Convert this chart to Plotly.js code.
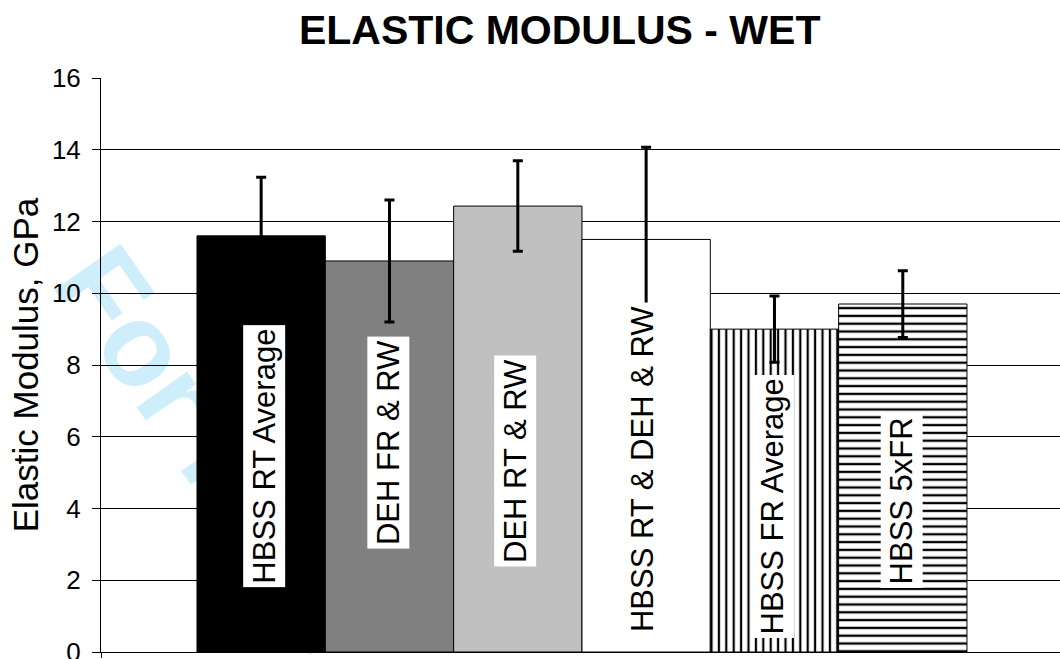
<!DOCTYPE html>
<html>
<head>
<meta charset="utf-8">
<script src="https://cdn.plot.ly/plotly-3.0.1.min.js"></script>
<style>html,body{margin:0;padding:0;background:#fff;}#chart{width:1060px;height:659px;}</style>
</head>
<body>
<div id="chart"></div>
<script>
// ---- data ----
const categories = ["HBSS RT Average", "DEH FR & RW", "DEH RT & RW", "HBSS RT & DEH & RW", "HBSS FR Average", "HBSS 5xFR"];
const modulus = [11.60, 10.90, 12.43, 11.50, 9.00, 9.70];
const stdev = [1.63, 1.70, 1.26, 2.57, 0.92, 0.93];
const yTicks = [0, 2, 4, 6, 8, 10, 12, 14, 16];

// ---- styles / positions ----
const fills = ['#000000', '#808080', '#c0c0c0', '#ffffff', '#ffffff', '#ffffff'];
const patterns = ['', '', '', '', '|', '-'];
const patternSizes = [8, 8, 8, 8, 7.4, 7.8];
const labelY = [5.45, 5.85, 5.32, 5.09, 4.07, 4.22];
const labelShift = [3, -1.5, -3, -3.5, -1, -1];
const FONT = 'Liberation Sans, Arial, sans-serif';
const X_RANGE = [-1.248, 6.225];

const xs = categories.map((_, i) => i);

const traces = categories.map((c, i) => ({
  type: 'bar',
  name: c,
  x: [xs[i]],
  y: [modulus[i]],
  width: 1,
  marker: {
    color: fills[i],
    line: {color: '#000', width: 1},
    pattern: {shape: patterns[i], fgcolor: '#000', bgcolor: '#fff', size: patternSizes[i], solidity: 0.3}
  },
  error_y: {type: 'data', array: [stdev[i]], visible: true, color: '#000', thickness: 3, width: 5},
  hoverinfo: 'skip'
}));

const annotations = categories.map((c, i) => ({
  x: xs[i], y: labelY[i], xref: 'x', yref: 'y',
  text: c, showarrow: false, textangle: -90,
  xshift: labelShift[i],
  font: {family: FONT, size: 31, color: '#000'},
  bgcolor: '#fff', borderpad: 3
}));

const layout = {
  width: 1060, height: 659,
  margin: {l: 101, r: 0, t: 78, b: 7, pad: 0},
  paper_bgcolor: '#fff',
  plot_bgcolor: 'rgba(0,0,0,0)',
  showlegend: false,
  barmode: 'overlay',
  bargap: 0,
  title: {
    text: '<b>ELASTIC MODULUS - WET</b>',
    font: {family: FONT, size: 41, color: '#000'},
    x: 0.528, xanchor: 'center', xref: 'container',
    y: 0.955, yanchor: 'middle', yref: 'container'
  },
  xaxis: {
    range: X_RANGE,
    showline: true, linecolor: '#000', linewidth: 1,
    showgrid: false, zeroline: false, showticklabels: false,
    tickvals: [X_RANGE[0]], ticks: 'outside', ticklen: 5, tickcolor: '#000', tickwidth: 1,
    fixedrange: true
  },
  yaxis: {
    range: [0, 16],
    tickvals: yTicks,
    ticktext: yTicks.map(String),
    ticks: 'outside', ticklen: 8, tickcolor: '#000', tickwidth: 1,
    ticklabelstandoff: 6,
    ticklabeloverflow: 'allow',
    tickfont: {family: FONT, size: 26, color: '#000'},
    showline: true, linecolor: '#000', linewidth: 1,
    showgrid: true, gridcolor: '#000', gridwidth: 1,
    zeroline: false,
    title: {text: 'Elastic Modulus, GPa', font: {family: FONT, size: 35, color: '#000'}, standoff: 2},
    fixedrange: true
  },
  shapes: [{
    type: 'rect', xref: 'paper', yref: 'paper', layer: 'below',
    x0: 0.258, x1: 0.268, y0: 0.039, y1: 0.049,
    line: {width: 0}, fillcolor: 'rgba(0,0,0,0)',
    label: {
      text: '<b>For Peer Review</b>', textangle: 55, textposition: 'middle center',
      font: {family: FONT, size: 117, color: '#cfeefc'}
    }
  }],
  annotations: annotations
};

Plotly.newPlot('chart', traces, layout, {displayModeBar: false, staticPlot: true});
</script>
</body>
</html>
